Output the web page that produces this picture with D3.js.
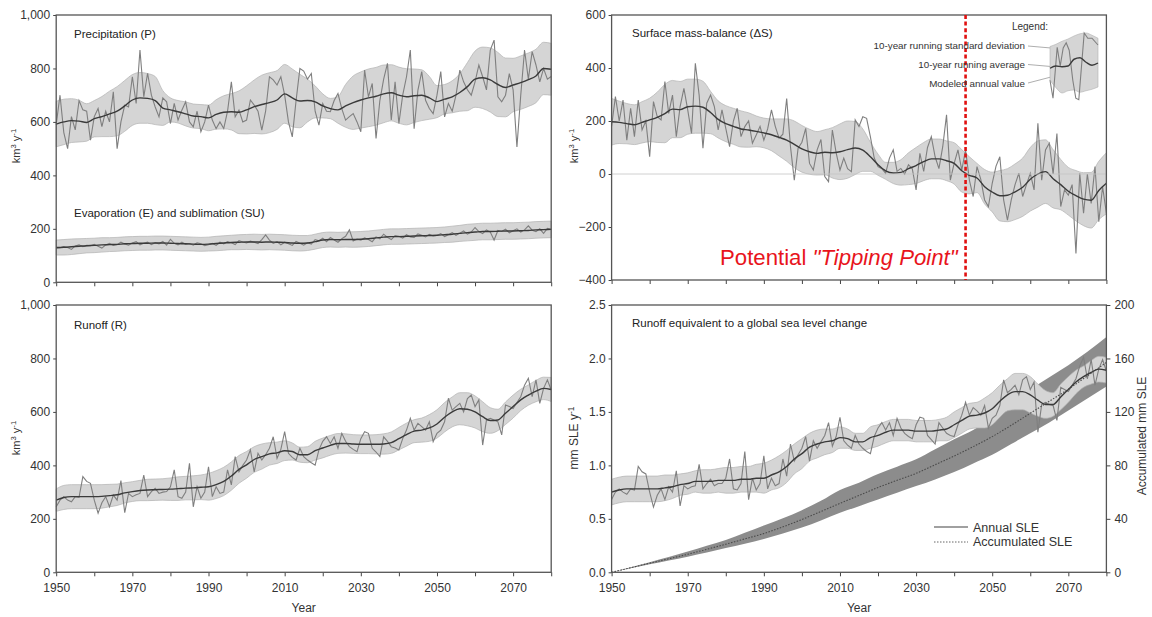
<!DOCTYPE html>
<html><head><meta charset="utf-8">
<script src="https://cdn.jsdelivr.net/npm/d3@7"></script>
<style>body{margin:0;background:#fff}svg{font-family:"Liberation Sans",Arial,sans-serif}</style>
</head><body>
<svg id="c" width="1152" height="617"></svg>
<script>
// ---------- categories / ticks ----------
const years = d3.range(1950, 2081);          // annual values
const years2 = d3.range(1950, 2081, 2);      // running mean / sd sampled every 2 years
const accYears = d3.range(1950, 2081, 5);    // accumulated SLE sampled every 5 years
const xTicks = d3.range(1950, 2081, 10);
const xTickLabels = [1950, 1970, 1990, 2010, 2030, 2050, 2070];
const tippingYear = 2043;

// ---------- Precipitation (P) ----------
const precipAnnual = [
590,700,560,500,620,570,680,645,640,532,
620,650,582,640,600,713,500,600,663,656,
769,669,869,694,782,700,656,619,690,675,
594,669,607,644,675,600,582,640,563,600,
663,607,575,600,575,640,750,619,644,600,
607,682,663,640,569,640,769,757,738,769,
700,600,544,680,800,790,760,781,640,588,
669,640,638,680,706,650,607,620,631,600,
563,794,694,744,538,680,760,819,607,750,
594,700,769,869,575,719,788,681,650,631,
700,788,619,669,640,700,794,750,720,700,
750,813,769,720,869,906,694,675,700,781,
720,506,700,869,760,863,813,750,800,760,
770];
const precipMean = [
592,600,605,603,598, 612,620,630,640,660, 682,690,688,680,652, 645,638,630,622,620,
615,628,636,638,636, 645,657,665,672,682, 705,690,678,680,675, 660,650,645,660,672,
682,690,696,705,709, 700,694,698,700,690, 676,685,694,710,732, 760,765,757,740,729,
738,747,758,772,800, 797];
const precipSD = [
85,85,82,78,70, 68,75,85,92,95, 95,95,93,90,65, 45,42,45,45,45,
48,55,62,68,80, 90,100,110,112,110, 110,108,100,80,60, 45,38,50,80,100,
105,108,108,108,105, 105,105,100,95,80, 60,55,60,70,90, 105,115,120,120,110,
100,100,100,100,98, 97];

// ---------- Evaporation + sublimation ----------
const evapAnnual = [
128,129,134,130,123,136,140,133,138,137,
142,135,128,140,146,138,141,150,143,139,
147,152,140,146,150,141,148,144,153,139,
161,146,140,150,142,145,139,148,144,137,
141,146,138,150,144,152,148,141,156,151,
147,154,150,145,160,177,158,146,152,140,
150,144,138,153,146,139,148,143,160,155,
165,152,168,158,150,163,172,196,155,162,
158,166,160,152,170,163,180,168,160,175,
172,165,178,170,168,181,176,170,179,173,
175,182,171,178,186,176,184,192,180,188,
205,190,182,196,188,158,194,190,199,185,
193,200,188,196,211,195,190,200,183,202,
198];
const evapMean = [
130,131,133,135,137, 138,140,141,142,144, 145,146,146,147,147, 146,145,144,143,142,
143,145,147,149,150, 151,151,150,151,150, 149,147,146,147,152, 158,160,159,160,160,
161,163,166,169,171, 171,172,173,174,175, 176,178,180,183,186, 188,190,190,191,192,
192,193,194,196,197, 198];
const evapSD = [
28,29,29,28,27, 27,27,26,26,26, 26,26,26,26,26, 26,26,26,26,26,
26,27,27,27,28, 28,29,29,29,29, 29,29,29,28,28, 28,28,28,28,29,
29,29,29,29,29, 29,29,29,29,29, 29,29,30,30,31, 31,31,31,31,31,
31,31,31,31,31, 31];

// ---------- Surface mass-balance (dS) ----------
const smbAnnual = [
180,292,200,279,128,248,141,279,166,200,
65,273,216,204,349,229,298,141,254,323,
242,153,418,298,97,267,298,254,166,242,
172,103,200,248,141,179,200,116,147,180,
128,170,242,180,135,150,285,103,-23,97,
120,172,40,15,91,130,-10,-29,166,80,
15,60,20,9,204,179,216,210,140,60,
28,20,3,60,91,10,21,0,35,20,
-60,78,10,100,141,65,20,103,223,-23,
40,91,15,91,-23,-85,28,-20,-98,-123,
-35,30,65,-98,-174,-98,-40,3,-85,-40,
3,-60,191,-23,91,116,0,153,-123,-60,
-80,-40,-300,3,-148,0,-111,28,-180,-48,
-148];
const smbMean = [
197,195,190,186,195, 204,214,228,245,243, 254,256,252,232,206, 190,180,170,166,161,
155,148,138,128,112, 95,84,78,82,80, 84,92,98,90,65, 35,12,4,6,20,
32,47,57,57,50, 40,12,-5,-15,-48, -68,-82,-80,-67,-50, -20,0,9,-18,-40,
-65,-82,-95,-99,-62, -35];
const smbSD = [
88,80,76,75,78, 82,95,110,108,106, 104,102,98,80,70, 68,68,68,65,58,
56,60,70,80,88, 88,85,82,85,95, 105,108,100,80,55, 40,32,40,48,60,
68,72,75,75,75, 78,80,70,55,65, 75,95,100,105,110, 120,125,120,110,95,
90,95,100,105,110, 115];

// ---------- Runoff (R) ----------
const runoffAnnual = [
245,270,283,270,264,283,280,358,340,333,
270,221,260,283,245,289,270,343,223,295,
283,290,295,364,283,302,314,295,300,302,
320,383,283,277,300,408,245,320,277,300,
395,283,320,295,300,383,327,433,376,400,
420,458,376,445,420,440,464,507,426,460,
526,445,430,420,464,433,420,410,401,458,
490,507,482,507,464,520,490,470,460,451,
500,526,520,464,450,433,507,490,470,465,
458,500,532,576,532,557,545,532,563,489,
520,532,563,651,607,620,632,600,650,663,
620,645,476,570,576,570,563,514,626,620,
613,635,657,700,726,657,720,632,688,720,
682];
const runoffMean = [
270,280,283,283,283, 283,284,287,290,297, 302,306,308,309,310, 311,313,315,316,318,
320,328,340,360,385, 402,422,433,443,447, 455,452,440,440,455, 465,475,482,482,480,
479,479,479,480,485, 500,515,528,532,540, 555,580,600,612,610, 600,582,568,570,595,
620,645,663,678,688, 684];
const runoffSD = [
42,45,45,45,45, 45,44,42,40,38, 37,38,40,40,40, 42,44,44,45,46,
50,52,53,53,52, 50,48,47,42,40, 37,32,28,30,35, 37,37,37,36,35,
35,35,36,38,40, 42,43,43,45,50, 53,55,56,60,62, 60,56,48,40,42,
43,40,38,40,42, 45];

// ---------- Sea level equivalent (SLE) ----------
const sleAnnual = [
0.68,0.75,0.78,0.75,0.73,0.78,0.77,0.99,0.94,0.92,
0.75,0.61,0.72,0.78,0.68,0.80,0.75,0.95,0.62,0.81,
0.78,0.80,0.81,1.01,0.78,0.83,0.87,0.81,0.83,0.83,
0.88,1.06,0.78,0.77,0.83,1.13,0.68,0.88,0.77,0.83,
1.09,0.78,0.88,0.81,0.83,1.06,0.90,1.20,1.04,1.10,
1.16,1.27,1.04,1.23,1.16,1.22,1.28,1.40,1.18,1.27,
1.45,1.23,1.19,1.16,1.28,1.20,1.16,1.13,1.11,1.27,
1.35,1.40,1.33,1.40,1.28,1.44,1.35,1.30,1.27,1.25,
1.38,1.45,1.44,1.28,1.24,1.20,1.40,1.35,1.30,1.28,
1.27,1.38,1.47,1.59,1.47,1.54,1.51,1.47,1.56,1.35,
1.44,1.47,1.56,1.80,1.68,1.71,1.75,1.66,1.80,1.83,
1.71,1.78,1.31,1.57,1.59,1.57,1.56,1.42,1.73,1.71,
1.69,1.75,1.81,1.93,2.01,1.81,1.99,1.75,1.90,1.99,
1.88];
const sleMean = [
0.75,0.77,0.78,0.78,0.78, 0.78,0.78,0.79,0.80,0.82, 0.83,0.85,0.85,0.85,0.86, 0.86,0.86,0.87,0.87,0.88,
0.88,0.91,0.94,0.99,1.06, 1.11,1.17,1.20,1.22,1.23, 1.26,1.25,1.22,1.22,1.26, 1.28,1.31,1.33,1.33,1.33,
1.32,1.32,1.32,1.33,1.34, 1.38,1.42,1.46,1.47,1.49, 1.53,1.60,1.66,1.69,1.69, 1.66,1.61,1.57,1.57,1.64,
1.71,1.78,1.83,1.87,1.90, 1.89];
const sleSD = [
0.12,0.12,0.12,0.12,0.12, 0.12,0.12,0.12,0.11,0.10, 0.10,0.10,0.11,0.11,0.11, 0.12,0.12,0.12,0.12,0.13,
0.14,0.14,0.15,0.15,0.14, 0.14,0.13,0.13,0.12,0.11, 0.10,0.09,0.08,0.08,0.10, 0.10,0.10,0.10,0.10,0.10,
0.10,0.10,0.10,0.10,0.11, 0.12,0.12,0.12,0.12,0.14, 0.15,0.15,0.15,0.17,0.17, 0.17,0.15,0.13,0.11,0.12,
0.12,0.11,0.10,0.11,0.12, 0.12];
const accMean = [0,3.4,6.8,10.1,13.5,17.2,21,25,29,34,39.5,45.5,51.6,57.5,63.5,68.8,74,80.5,87,94,101.5,110,119,128,137,147,157];
const accLow  = [0,3.0,6.0,8.9,11.7,14.8,18.1,21.4,25,29,33.5,38.8,44.5,49.5,54.5,59.5,64.5,69.5,75,81.5,88,96,104,112,121,130,139];
const accHigh = [0,3.8,7.6,11.5,15.5,19.8,24.2,29.5,35,40.5,46.5,53.5,61.6,67,73.5,79,84.5,92,99.5,106.5,115,127,137,146,155,165,176];

// ---------- legend inset (schematic sample) ----------
const insetSteps = d3.range(0, 9);
const insetUpper = [78,81,85,88,92,95,96,93,89];
const insetLower = [33,23,16,19,20,17,19,21,24];
const insetMean  = [49,52,51,52,61,63,57,53,56];
const insetAnnualT = [0,0.5,1.2,1.7,2.2,2.7,3.2,3.8,4.3,4.8,5.7,6.3,7,8];
const insetAnnualV = [33,9,77,52,76,83,73,33,9,7,96,89,89,80];

// ================== drawing ==================
const svg = d3.select("#c");
const C = {band:"#d5d5d5", bandEdge:"#b2b2b2", annual:"#7f7f7f", mean:"#3a3a3a", frame:"#555", text:"#333"};
const FONT = 12;

function panel(x0, x1, y0, y1, yDomain) {
  const g = svg.append("g");
  const x = d3.scaleLinear().domain([1950, 2080]).range([x0, x1]);
  const y = d3.scaleLinear().domain(yDomain).range([y1, y0]);
  return {g, x, y, x0, x1, y0, y1};
}

function series(p, annual, mean, sd) {
  const area = d3.area().x((d, i) => p.x(years2[i]))
    .y0((d, i) => p.y(mean[i] - sd[i])).y1((d, i) => p.y(mean[i] + sd[i]))
    .curve(d3.curveMonotoneX);
  p.g.append("path").datum(mean).attr("d", area)
    .attr("fill", C.band).attr("stroke", C.bandEdge).attr("stroke-width", 0.7);
  p.g.append("path").datum(annual)
    .attr("d", d3.line().x((d, i) => p.x(years[i])).y(d => p.y(d)))
    .attr("fill", "none").attr("stroke", C.annual).attr("stroke-width", 1.1);
  p.g.append("path").datum(mean)
    .attr("d", d3.line().x((d, i) => p.x(years2[i])).y(d => p.y(d)).curve(d3.curveMonotoneX))
    .attr("fill", "none").attr("stroke", C.mean).attr("stroke-width", 1.4);
}

function styleAxis(sel) {
  sel.select(".domain").remove();
  sel.selectAll("line").attr("stroke", "#444").attr("stroke-width", 1);
  sel.selectAll("text").attr("font-size", FONT).attr("fill", C.text)
     .attr("font-family", "'Liberation Sans',Arial,sans-serif");
}

function frameAndAxes(p, yTicks, fmt, showXLabels) {
  const xa = d3.axisBottom(p.x).tickValues(xTicks).tickSize(4).tickPadding(7)
    .tickFormat(d => showXLabels && xTickLabels.includes(d) ? String(d) : "");
  p.g.append("g").attr("transform", `translate(0,${p.y1})`).call(xa).call(styleAxis);
  const ya = d3.axisLeft(p.y).tickValues(yTicks).tickSize(3).tickPadding(3).tickFormat(fmt);
  p.g.append("g").attr("transform", `translate(${p.x0},0)`).call(ya).call(styleAxis);
  p.g.append("rect").attr("x", p.x0).attr("y", p.y0)
    .attr("width", p.x1 - p.x0).attr("height", p.y1 - p.y0)
    .attr("fill", "none").attr("stroke", C.frame).attr("stroke-width", 1.3);
  if (showXLabels) {
    p.g.append("text").attr("x", (p.x0 + p.x1) / 2).attr("y", 612)
      .attr("text-anchor", "middle").attr("font-size", FONT).attr("fill", C.text).text("Year");
  }
}

function title(p, x, y, txt) {
  p.g.append("text").attr("x", x).attr("y", y).attr("font-size", 11.5)
    .attr("fill", "#222").text(txt);
}

function yTitle(cx, cy, parts, size) {
  const t = svg.append("text").attr("transform", `translate(${cx},${cy}) rotate(-90)`)
    .attr("text-anchor", "middle").attr("font-size", size).attr("fill", C.text);
  let shift = 0;
  parts.forEach(([s, sup]) => {
    const want = sup ? -4 : 0;
    t.append("tspan").attr("dy", want - shift).attr("font-size", sup ? size * 0.7 : size).text(s);
    shift = want;
  });
}
const kmUnit = [["km", 0], ["3", 1], [" y", 0], ["-1", 1]];
const fmtThousands = d3.format(",");

// ---- Panel 1: P and E+SU ----
const p1 = panel(56.2, 551.2, 15, 282.3, [0, 1000]);
series(p1, precipAnnual, precipMean, precipSD);
series(p1, evapAnnual, evapMean, evapSD);
frameAndAxes(p1, [0, 200, 400, 600, 800, 1000], fmtThousands, false);
title(p1, 74, 38, "Precipitation (P)");
title(p1, 74, 217, "Evaporation (E) and sublimation (SU)");
yTitle(20, 146, kmUnit, 11);

// ---- Panel 2: surface mass balance ----
const p2 = panel(611.6, 1106.4, 15, 280, [-400, 600]);
series(p2, smbAnnual, smbMean, smbSD);
p2.g.append("line").attr("x1", p2.x0).attr("x2", p2.x1).attr("y1", p2.y(0)).attr("y2", p2.y(0))
  .attr("stroke", "#c4c4c4").attr("stroke-width", 0.8);
frameAndAxes(p2, [-400, -200, 0, 200, 400, 600], d3.format("d"), false);
title(p2, 632, 37, "Surface mass-balance (\u0394S)");
yTitle(578, 146, kmUnit, 11);
p2.g.append("line").attr("x1", p2.x(tippingYear)).attr("x2", p2.x(tippingYear))
  .attr("y1", p2.y0).attr("y2", p2.y1)
  .attr("stroke", "#e01010").attr("stroke-width", 2.6).attr("stroke-dasharray", "4,2.6");
const red = svg.append("text").attr("x", 720).attr("y", 265).attr("font-size", 22.2).attr("fill", "#e8141c");
red.append("tspan").text("Potential ");
red.append("tspan").attr("font-style", "italic").text("\"Tipping Point\"");

// legend inset
const lg = svg.append("g");
lg.append("text").attr("x", 1030).attr("y", 30).attr("text-anchor", "middle").attr("font-size", 10).attr("fill", "#333").text("Legend:");
const legTexts = [["10-year running standard deviation", 49], ["10-year running average", 68], ["Modeled annual value", 86.5]];
legTexts.forEach(([s, yy]) => lg.append("text").attr("x", 1025).attr("y", yy).attr("text-anchor", "end")
  .attr("font-size", 9.8).attr("fill", "#333").text(s));
const leaders = [[[1028, 46], [1051, 48]], [[1028, 64.5], [1051, 66.5]], [[1028, 83], [1051, 77]]];
leaders.forEach(l => lg.append("path").attr("d", d3.line()(l)).attr("stroke", "#999").attr("stroke-width", 0.8).attr("fill", "none"));
const ix = d3.scaleLinear().domain([0, 8]).range([1050, 1098]);
const iy = d3.scaleLinear().domain([0, 100]).range([105, 30]);
lg.append("path").datum(insetSteps)
  .attr("d", d3.area().x(i => ix(i)).y0(i => iy(insetLower[i])).y1(i => iy(insetUpper[i])).curve(d3.curveMonotoneX))
  .attr("fill", C.band).attr("stroke", C.bandEdge).attr("stroke-width", 0.6);
lg.append("path").datum(insetAnnualT)
  .attr("d", d3.line().x(t => ix(t)).y((t, i) => iy(insetAnnualV[i])))
  .attr("fill", "none").attr("stroke", C.annual).attr("stroke-width", 1.1);
lg.append("path").datum(insetSteps)
  .attr("d", d3.line().x(i => ix(i)).y(i => iy(insetMean[i])).curve(d3.curveMonotoneX))
  .attr("fill", "none").attr("stroke", C.mean).attr("stroke-width", 1.4);

// ---- Panel 3: runoff ----
const p3 = panel(56.2, 551.2, 305, 572.3, [0, 1000]);
series(p3, runoffAnnual, runoffMean, runoffSD);
frameAndAxes(p3, [0, 200, 400, 600, 800, 1000], fmtThousands, true);
title(p3, 74, 329, "Runoff (R)");
yTitle(20, 438, kmUnit, 11);

// ---- Panel 4: SLE ----
const p4 = panel(611.6, 1106.4, 305, 572.3, [0, 2.5]);
const yAcc = d3.scaleLinear().domain([0, 200]).range([p4.y1, p4.y0]);
p4.g.append("path").datum(accYears)
  .attr("d", d3.area().x(d => p4.x(d)).y0((d, i) => yAcc(accLow[i])).y1((d, i) => yAcc(accHigh[i])).curve(d3.curveMonotoneX))
  .attr("fill", "#8c8c8c");
series(p4, sleAnnual, sleMean, sleSD);
p4.g.append("path").datum(accYears)
  .attr("d", d3.line().x(d => p4.x(d)).y((d, i) => yAcc(accMean[i])).curve(d3.curveMonotoneX))
  .attr("fill", "none").attr("stroke", "#4a4a4a").attr("stroke-width", 1.1).attr("stroke-dasharray", "1.5,1.5");
frameAndAxes(p4, [0, 0.5, 1, 1.5, 2, 2.5], d3.format(".1f"), true);
const ra = d3.axisRight(yAcc).tickValues([0, 40, 80, 120, 160, 200]).tickSize(4).tickPadding(4);
p4.g.append("g").attr("transform", `translate(${p4.x1},0)`).call(ra).call(styleAxis);
title(p4, 632, 327, "Runoff equivalent to a global sea level change");
yTitle(578, 438, [["mm SLE y", 0], ["-1", 1]], 12);
yTitle(1146, 436, [["Accumulated mm SLE", 0]], 12);
// legend
p4.g.append("line").attr("x1", 934).attr("x2", 968).attr("y1", 527).attr("y2", 527).attr("stroke", "#808080").attr("stroke-width", 1.5);
p4.g.append("line").attr("x1", 934).attr("x2", 968).attr("y1", 542).attr("y2", 542).attr("stroke", "#666").attr("stroke-width", 1).attr("stroke-dasharray", "1.5,1.5");
p4.g.append("text").attr("x", 973).attr("y", 531.5).attr("font-size", 12.5).attr("fill", C.text).text("Annual SLE");
p4.g.append("text").attr("x", 973).attr("y", 546).attr("font-size", 12.5).attr("fill", C.text).text("Accumulated SLE");
</script>
</body></html>
